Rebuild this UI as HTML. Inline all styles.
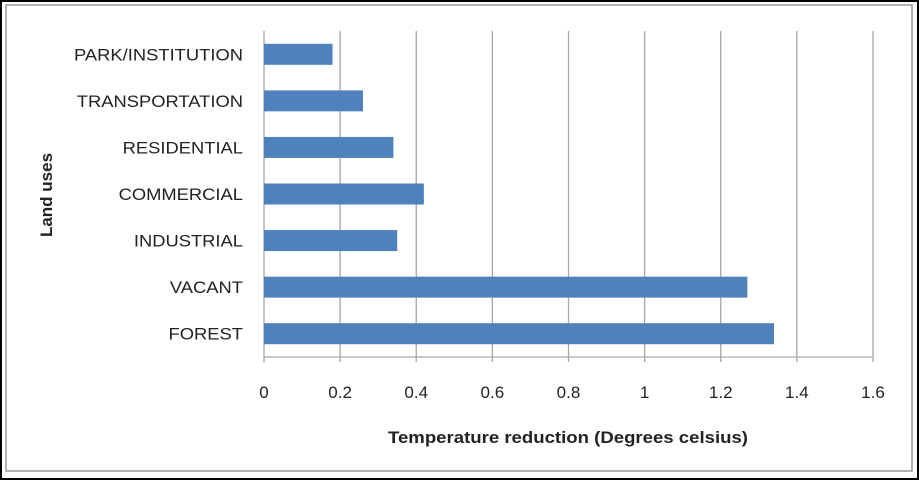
<!DOCTYPE html>
<html><head><meta charset="utf-8"><style>
html,body{margin:0;padding:0;background:#000;}
#wrap{position:absolute;left:2px;top:2px;width:915px;height:476px;background:#fff;}
svg{position:absolute;left:0;top:0;}
text{font-family:"Liberation Sans",sans-serif;fill:#222;}
</style></head><body>
<div id="wrap"></div>
<svg id="chart" width="919" height="480">
<rect x="6" y="5" width="906" height="466" fill="none" stroke="#999" stroke-width="1.5"/>
</svg>
<script>
const categories=["PARK/INSTITUTION","TRANSPORTATION","RESIDENTIAL","COMMERCIAL","INDUSTRIAL","VACANT","FOREST"];
const values=[0.18,0.26,0.34,0.42,0.35,1.27,1.34];
const ticks=[0,0.2,0.4,0.6,0.8,1,1.2,1.4,1.6];
const tickLabels=["0","0.2","0.4","0.6","0.8","1","1.2","1.4","1.6"];
const NS="http://www.w3.org/2000/svg";
const svg=document.getElementById('chart');
const x0=264,x1=873,yTop=31,yBot=357,xMax=1.6;
const band=(yBot-yTop)/categories.length;
function xs(v){return x0+v/xMax*(x1-x0);}
function yc(i){return yTop+band*(i+0.5);}
function mk(t,a){const e=document.createElementNS(NS,t);for(const k in a)e.setAttribute(k,a[k]);svg.appendChild(e);return e;}
ticks.forEach((t,i)=>{
  if(i>0){const g=mk('line',{x1:xs(t),x2:xs(t),y1:yTop,y2:yBot+5,stroke:'#a6a6a6','stroke-width':1.3});
  
  }
  const tx=mk('text',{x:xs(t),y:398,'text-anchor':'middle','font-size':17});
  tx.textContent=tickLabels[i];
  
  
});
const ax=mk('line',{x1:x0,x2:x1,y1:yBot,y2:yBot,stroke:'#a6a6a6','stroke-width':1.3});


const ay=mk('line',{x1:x0,x2:x0,y1:yTop,y2:yBot+5,stroke:'#a6a6a6','stroke-width':1.3});


categories.forEach((c,i)=>{
  const b=mk('rect',{x:x0,y:yc(i)-10.5,width:xs(values[i])-x0,height:21,fill:'#4f81bd'});
  
  
  const l=mk('text',{x:243,y:yc(i)+6,'text-anchor':'end','font-size':17,textLength:0});
  l.removeAttribute('textLength');
  l.setAttribute('transform','translate(243,0) scale(1.08,1) translate(-243,0)');
  l.textContent=c;
  
  
});
const xt=mk('text',{x:568,y:443,'text-anchor':'middle','font-size':17,'font-weight':'bold',textLength:360,lengthAdjust:'spacingAndGlyphs'});
xt.setAttribute('x',388);
xt.setAttribute('text-anchor','start');
xt.textContent='Temperature reduction (Degrees celsius)';


const yt=mk('text',{x:0,y:0,'text-anchor':'middle','font-size':17,'font-weight':'bold',transform:'translate(52,195) rotate(-90)'});
yt.textContent='Land uses';


</script>
</body></html>
